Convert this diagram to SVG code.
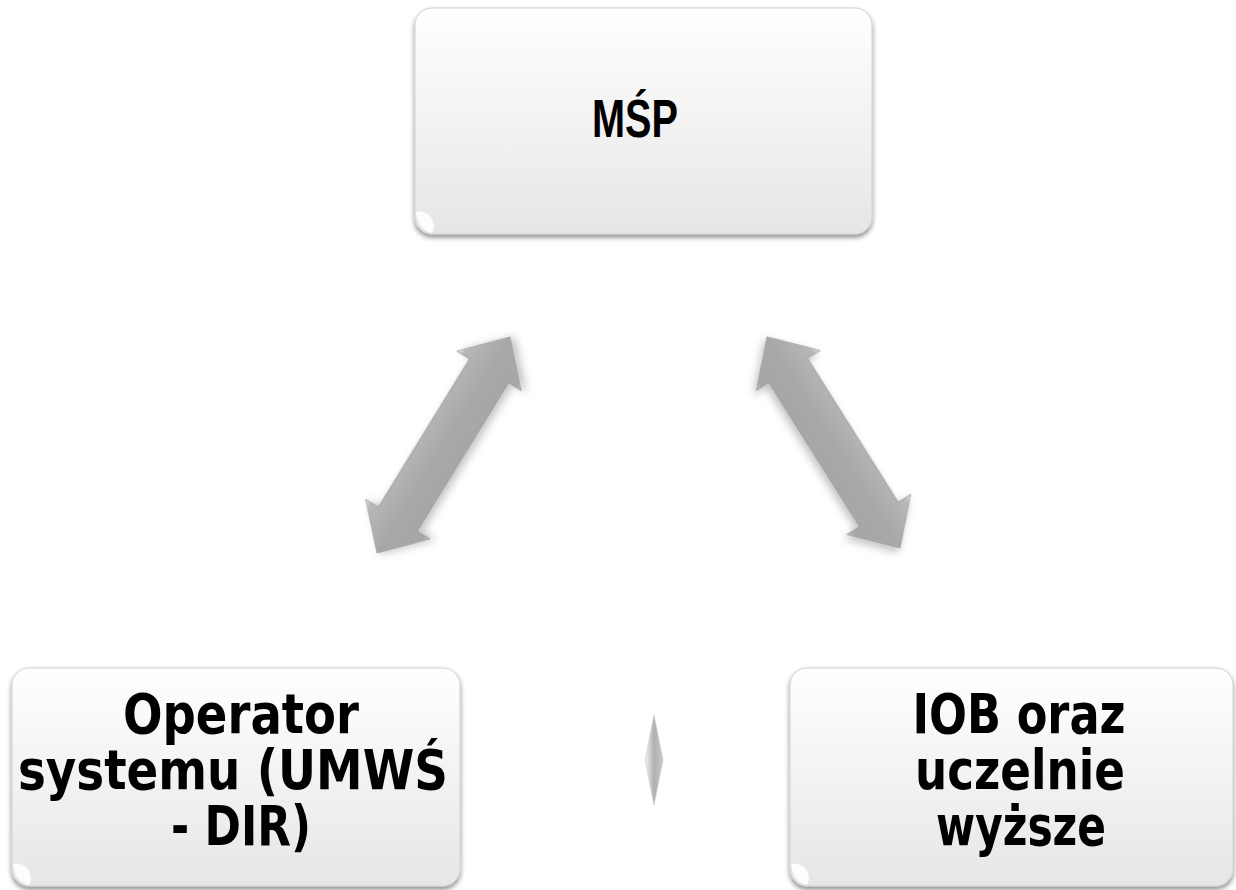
<svg xmlns="http://www.w3.org/2000/svg" width="1236" height="890" viewBox="0 0 1236 890">
<defs>
<linearGradient id="boxg" x1="0" y1="0" x2="0" y2="1">
<stop offset="0" stop-color="#ffffff"/>
<stop offset="1" stop-color="#e6e6e6"/>
</linearGradient>
<linearGradient id="arrg" x1="0" y1="0" x2="0" y2="1">
<stop offset="0" stop-color="#e6e6e6"/>
<stop offset="0.1" stop-color="#b8b8b8"/>
<stop offset="0.5" stop-color="#a8a8a8"/>
<stop offset="0.9" stop-color="#a6a6a6"/>
<stop offset="1" stop-color="#bcbcbc"/>
</linearGradient>
<linearGradient id="diag" x1="0" y1="0" x2="1" y2="0">
<stop offset="0" stop-color="#f4f4f4"/>
<stop offset="0.5" stop-color="#b0b0b0"/>
<stop offset="1" stop-color="#c8c8c8"/>
</linearGradient>
<filter id="sh" x="-10%" y="-10%" width="120%" height="130%">
<feDropShadow dx="0" dy="3" stdDeviation="2.5" flood-color="#000" flood-opacity="0.45"/>
</filter>
<filter id="ash" x="-20%" y="-20%" width="140%" height="140%">
<feDropShadow dx="2" dy="4" stdDeviation="4" flood-color="#000" flood-opacity="0.25"/>
</filter>
</defs>
<style>
.box{fill:url(#boxg);stroke:#d0d0d0;stroke-width:1;filter:url(#sh)}
.gl{fill:#ffffff;opacity:0.9}
.lbl{font-family:"DejaVu Sans Condensed","DejaVu Sans",sans-serif;font-weight:bold;font-size:55px;fill:#000;text-anchor:middle}
.ttl{font-family:"Liberation Sans",Arial,sans-serif;font-weight:bold;font-size:54px;fill:#000;text-anchor:middle}
.arr{fill:url(#arrg);stroke:#9a9a9a;stroke-width:0.8;filter:url(#ash)}
</style>
<g id="connectors">
<g transform="translate(443.5,445) rotate(-58.4)">
<path class="arr" d="M -127 0 L -87 -38 L -87 -23 L 87 -23 L 87 -38 L 127 0 L 87 38 L 87 23 L -87 23 L -87 38 Z"/>
</g>
<g transform="translate(833.5,442.5) rotate(57.8)">
<path class="arr" d="M -125 0 L -85 -38 L -85 -23 L 85 -23 L 85 -38 L 125 0 L 85 38 L 85 23 L -85 23 L -85 38 Z"/>
</g>
<path d="M 654 715 L 663 760 L 654 805 L 645 760 Z" fill="url(#diag)" stroke="#cfcfcf" stroke-width="0.6"/>
</g>
<g id="node-msp">
<rect class="box" x="415" y="8" width="457" height="226" rx="17"/>
<path class="gl" d="M 416 212 Q 418 230 432 233 Q 437 225 430 216 Q 424 210 416 212 Z"/>
<text class="ttl" x="635" y="137" textLength="86" lengthAdjust="spacingAndGlyphs">MŚP</text>
</g>
<g id="node-operator">
<rect class="box" x="12" y="668" width="448" height="218" rx="17"/>
<path class="gl" d="M 13 864 Q 15 882 29 885 Q 34 877 27 868 Q 21 862 13 864 Z"/>
<text class="lbl" x="241" y="733" textLength="236" lengthAdjust="spacingAndGlyphs">Operator</text>
<text class="lbl" x="233" y="789" textLength="430" lengthAdjust="spacingAndGlyphs">systemu (UMWŚ</text>
<text class="lbl" x="241" y="845" textLength="140" lengthAdjust="spacingAndGlyphs">- DIR)</text>
</g>
<g id="node-iob">
<rect class="box" x="790" y="668" width="443" height="218" rx="17"/>
<path class="gl" d="M 791 864 Q 793 882 807 885 Q 812 877 805 868 Q 799 862 791 864 Z"/>
<text class="lbl" x="1019" y="733" textLength="213" lengthAdjust="spacingAndGlyphs">IOB oraz</text>
<text class="lbl" x="1020" y="789" textLength="210" lengthAdjust="spacingAndGlyphs">uczelnie</text>
<text class="lbl" x="1021" y="845" textLength="170" lengthAdjust="spacingAndGlyphs">wyższe</text>
</g>
</svg>
